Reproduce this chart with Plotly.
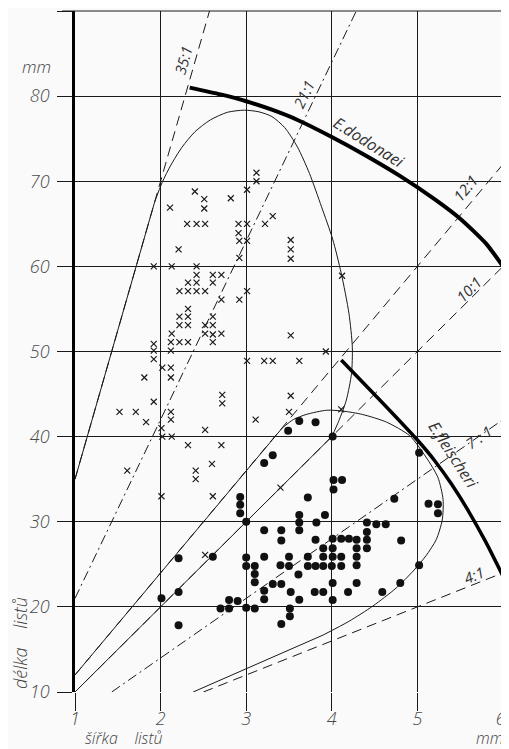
import plotly.graph_objects as go

# ---------------- data ----------------
cross_x = [3.12, 3.12, 3.01, 2.40, 2.51, 2.82, 2.11, 2.51, 3.31,
           2.31, 2.42, 2.52, 2.91, 3.01, 3.22, 2.91, 2.92, 3.01, 3.52,
           2.21, 3.52, 2.92, 3.52, 1.92, 2.13, 2.42,
           2.42, 2.61, 2.71, 4.12, 2.32, 2.42, 2.61,
           2.22, 2.32, 2.42, 2.52, 3.01, 2.71, 2.92, 2.32,
           2.22, 2.32, 2.61, 2.22, 2.32, 2.52, 2.61,
           2.13, 2.52, 2.61, 2.71, 3.52,
           1.92, 2.12, 2.22, 2.32, 2.61, 1.92, 2.12, 3.93,
           1.92, 3.01, 3.21, 3.31, 3.62, 2.02, 2.12, 1.81, 2.12,
           2.72, 3.52, 1.92, 2.72,
           1.52, 1.71, 2.12, 3.50, 4.11, 1.83, 2.12, 3.11,
           2.01, 2.52, 2.02, 2.13, 2.32, 2.71, 2.60,
           1.61, 2.41, 2.41, 3.40, 2.01, 2.61, 2.52]
cross_y = [71.0, 70.0, 69.0, 68.8, 67.9, 68.0, 66.9, 66.8, 65.9,
           65.0, 65.0, 65.0, 65.0, 65.0, 65.0, 63.9, 63.0, 63.0, 63.1,
           62.0, 62.0, 61.0, 60.9, 60.0, 60.0, 60.0,
           59.0, 59.0, 59.0, 58.9, 58.1, 58.1, 58.1,
           57.1, 57.1, 57.1, 57.1, 57.1, 56.1, 56.1, 55.0,
           54.1, 54.1, 54.1, 53.1, 53.1, 53.1, 53.1,
           52.1, 52.1, 52.0, 52.1, 51.9,
           50.9, 51.1, 51.1, 51.1, 51.1, 50.1, 50.1, 50.0,
           49.1, 48.9, 48.9, 48.9, 48.9, 48.1, 48.1, 46.95, 46.95,
           44.9, 44.8, 44.1, 43.9,
           42.9, 42.9, 42.9, 42.9, 43.2, 41.7, 42.0, 42.0,
           41.0, 40.8, 40.0, 40.0, 39.0, 39.0, 36.8,
           36.0, 36.0, 35.0, 34.0, 33.0, 33.0, 26.1]

dot_x = [2.93, 2.93, 2.93, 3.00, 2.21, 2.61, 3.00, 3.00,
         3.10, 3.10, 3.10, 2.21, 2.01, 2.80, 2.90, 2.70, 2.80, 3.00, 3.10, 2.21,
         3.62, 3.81, 3.49, 4.01, 3.31, 3.21,
         4.02, 4.12, 4.02, 3.72,
         3.62, 3.62, 3.62, 3.92, 3.82, 3.21, 3.41, 3.41, 3.81,
         4.01, 4.11, 4.20, 4.29, 4.41,
         3.90, 4.01, 4.29, 4.41,
         3.21, 3.50, 3.72, 3.90, 4.01, 4.11, 4.29,
         3.40, 3.50, 3.72, 3.81, 3.90, 4.00, 4.11, 4.29,
         3.61, 3.31, 3.41, 4.01, 4.29,
         3.21, 3.21, 3.52, 3.80, 3.90, 4.19, 4.59,
         3.62, 4.01, 3.51, 3.51, 3.41,
         4.73, 5.02, 5.13, 5.24, 5.24,
         4.41, 4.52, 4.63, 4.41, 4.81, 5.02, 4.80]
dot_y = [32.9, 32.0, 31.0, 30.0, 25.7, 25.9, 25.8, 24.8,
         24.8, 23.85, 22.9, 21.75, 21.0, 20.8, 20.7, 19.8, 19.8, 19.9, 19.8, 17.85,
         41.85, 41.7, 40.7, 40.0, 37.8, 36.9,
         34.9, 34.9, 33.8, 32.85,
         30.8, 29.9, 29.0, 30.8, 29.9, 29.0, 29.0, 27.8, 27.9,
         28.0, 28.0, 28.0, 27.9, 27.9,
         26.9, 26.9, 26.9, 26.9,
         25.9, 25.9, 25.9, 25.9, 25.9, 25.9, 25.9,
         24.9, 24.8, 24.8, 24.8, 24.8, 24.8, 24.8, 24.9,
         23.8, 22.7, 22.7, 22.8, 22.8,
         21.9, 20.9, 21.75, 21.75, 21.75, 21.75, 21.75,
         20.85, 20.8, 19.8, 18.9, 18.0,
         32.7, 38.1, 32.1, 32.05, 31.0,
         29.9, 29.7, 29.7, 28.8, 27.8, 24.9, 22.8]

# length : width ratio lines
ratios = [35, 21, 12, 10, 7, 4]
ratio_labels = ["35:1", "21:1", "12:1", "10:1", "7 : 1", "4:1"]

# envelope of the crosses (thin solid)
env_x_straight = [1.0, 1.93]
env_x_straight_y = [35.0, 67.55]
env_x_curve = [1.93, 2.02, 2.12, 2.25, 2.40, 2.58, 2.78, 2.98, 3.15, 3.30,
               3.45, 3.60, 3.74, 3.88, 4.01, 4.11, 4.20, 4.24, 4.23, 4.17, 4.08, 4.00]
env_y_curve = [67.55, 69.9, 71.9, 74.0, 75.8, 77.2, 78.1, 78.35, 78.15, 77.6,
               76.3, 74.0, 70.9, 67.0, 63.2, 59.2, 54.5, 50.5, 47.4, 44.3, 41.8, 40.0]
env_x_lower = [4.00, 1.00]
env_y_lower = [40.0, 10.0]

# envelope of the dots (thin solid)
env_d_straight_x = [1.0, 3.42]
env_d_straight_y = [12.0, 41.0]
env_d_curve_x = [3.42, 3.55, 3.70, 3.94, 4.13, 4.36, 4.64, 4.91, 5.10, 5.24, 5.30,
                 5.29, 5.22, 5.10, 4.95, 4.75, 4.48, 4.20, 3.90]
env_d_curve_y = [41.0, 42.0, 42.6, 43.1, 43.0, 42.6, 41.7, 40.1, 37.6, 35.2, 32.6,
                 30.2, 27.9, 26.0, 24.2, 22.2, 20.1, 18.3, 16.7]
env_d_lower_x = [3.90, 2.38]
env_d_lower_y = [16.7, 10.0]

# species limit curves (thick)
dodonaei_x = [2.34, 2.70, 3.00, 3.30, 3.60, 4.00, 4.40, 4.80, 5.20, 5.50, 5.80, 6.00]
dodonaei_y = [81.0, 80.2, 79.4, 78.4, 77.2, 75.2, 73.0, 70.6, 67.9, 65.6, 62.7, 60.0]
fleischeri_x = [4.11, 4.60, 5.00, 5.20, 5.40, 5.60, 5.80, 6.00]
fleischeri_y = [49.0, 43.9, 39.6, 37.2, 34.4, 31.2, 27.6, 23.6]

x_ticks = [1, 2, 3, 4, 5, 6]
x_ticktext = ["1", "2", "3", "4", "5", "6\u00a0"]
y_ticks = [10, 20, 30, 40, 50, 60, 70, 80, 90]
y_ticktext = ["10", "20", "30", "40", "50", "60", "70", "80", ""]

# ---------------- styling ----------------
INK = "#1a1a1a"
FONT = "Open Sans"
BG = "#fafafa"
ratio_dash = ["10px,6px", "10px,4px,2px,4px", "10px,6px", "10px,6px",
              "10px,4px,2px,4px", "10px,6px"]
ratio_label_pos = [(2.26, 84.3, -74), (3.67, 80.3, -64), (5.56, 69.2, -50),
                   (5.60, 57.4, -45), (5.72, 39.9, -35), (5.66, 23.7, -22)]

fig = go.Figure()

for r, d in zip(ratios, ratio_dash):
    x0 = max(1.0, 10.0 / r)
    x1 = min(6.0, 90.0 / r)
    fig.add_trace(go.Scatter(x=[x0, x1], y=[r * x0, r * x1], mode="lines",
                             line=dict(color=INK, width=1, dash=d),
                             hoverinfo="skip", showlegend=False))

thin = dict(color=INK, width=1)
curvy = dict(color=INK, width=1, shape="spline", smoothing=0.7)
for xs, ys, ln in [(env_x_straight, env_x_straight_y, thin),
                   (env_x_curve, env_y_curve, curvy),
                   (env_x_lower, env_y_lower, thin),
                   (env_d_straight_x, env_d_straight_y, thin),
                   (env_d_curve_x, env_d_curve_y, curvy),
                   (env_d_lower_x, env_d_lower_y, thin)]:
    fig.add_trace(go.Scatter(x=xs, y=ys, mode="lines", line=ln,
                             hoverinfo="skip", showlegend=False))

fig.add_trace(go.Scatter(x=dodonaei_x, y=dodonaei_y, mode="lines",
                         line=dict(color="#000", width=4, shape="spline", smoothing=0.6),
                         showlegend=False))
fig.add_trace(go.Scatter(x=fleischeri_x, y=fleischeri_y, mode="lines",
                         line=dict(color="#000", width=3.5, shape="spline", smoothing=0.6),
                         showlegend=False))

fig.add_trace(go.Scatter(x=cross_x, y=cross_y, mode="markers",
                         marker=dict(symbol="x-thin", size=6, color=INK,
                                     line=dict(width=1.2, color=INK)),
                         showlegend=False))
fig.add_trace(go.Scatter(x=dot_x, y=dot_y, mode="markers",
                         marker=dict(symbol="circle", size=8, color="#111"),
                         showlegend=False))

label_font = dict(family=FONT, size=15, color="#333", style="italic")
annotations = []
for txt, (lx, ly, ang) in zip(ratio_labels, ratio_label_pos):
    annotations.append(dict(x=lx, y=ly, xref="x", yref="y", text=txt,
                            showarrow=False, textangle=ang, font=label_font))
annotations.append(dict(x=4.43, y=74.6, xref="x", yref="y", text="E.dodonaei",
                        showarrow=False, textangle=32, font=dict(label_font, size=16)))
annotations.append(dict(x=5.42, y=37.8, xref="x", yref="y", text="E.fleischeri",
                        showarrow=False, textangle=57, font=dict(label_font, size=16)))

title_font = dict(family=FONT, size=17, color="#444", style="italic", weight=300)
ctr = dict(xref="paper", yref="paper", showarrow=False, xanchor="center",
           yanchor="middle", font=title_font)
SP = "\u00a0\u00a0\u00a0\u00a0"
annotations += [
    dict(ctr, x=-0.089, y=0.919, text="mm"),
    dict(ctr, x=0.114, y=-0.0675, text="šířka" + SP + "listů", font=dict(title_font, size=16)),
    dict(ctr, x=0.968, y=-0.0675, text="mm", font=dict(title_font, size=16)),
    dict(ctr, x=-0.1285, y=0.072, text="délka" + SP + "listů", textangle=-90,
         font=dict(title_font, size=18)),
]

shapes = [
    # top border (y = 90), running left past the frame like the grid lines
    dict(type="line", xref="paper", yref="paper", x0=-0.03, x1=1.02, y0=1, y1=1,
         line=dict(color=INK, width=1)),
    # right border (x = 6)
    dict(type="line", xref="paper", yref="paper", x0=1, x1=1, y0=0, y1=1,
         line=dict(color=INK, width=1)),
]

tick_font = dict(family=FONT, size=18, color="#4a4a4a", style="italic", weight=300)
fig.update_layout(
    # the page body adds an 8 px margin, so the figure is made 8 px smaller
    width=501, height=741,
    margin=dict(l=67, r=6, t=3, b=57),
    paper_bgcolor=BG, plot_bgcolor=BG,
    showlegend=False,
    annotations=annotations,
    shapes=shapes,
    xaxis=dict(range=[1, 6], tickvals=x_ticks, ticktext=x_ticktext,
               showgrid=True, gridcolor=INK, gridwidth=1, zeroline=False,
               ticks="outside", ticklen=18, tickwidth=1, tickcolor=INK,
               showline=False, tickfont=tick_font, fixedrange=True,
               automargin=False, ticklabeloverflow="allow",
               ticklabelstandoff=-8),
    yaxis=dict(range=[10, 90], tickvals=y_ticks, ticktext=y_ticktext,
               showgrid=True, gridcolor=INK, gridwidth=1, zeroline=False,
               ticks="outside", ticklen=15, tickwidth=1, tickcolor=INK,
               showline=True, linewidth=2.5, linecolor="#000",
               tickfont=tick_font, fixedrange=True, automargin=False,
               ticklabelstandoff=4, ticklabeloverflow="allow"),
)

fig.write_html("out.html")
